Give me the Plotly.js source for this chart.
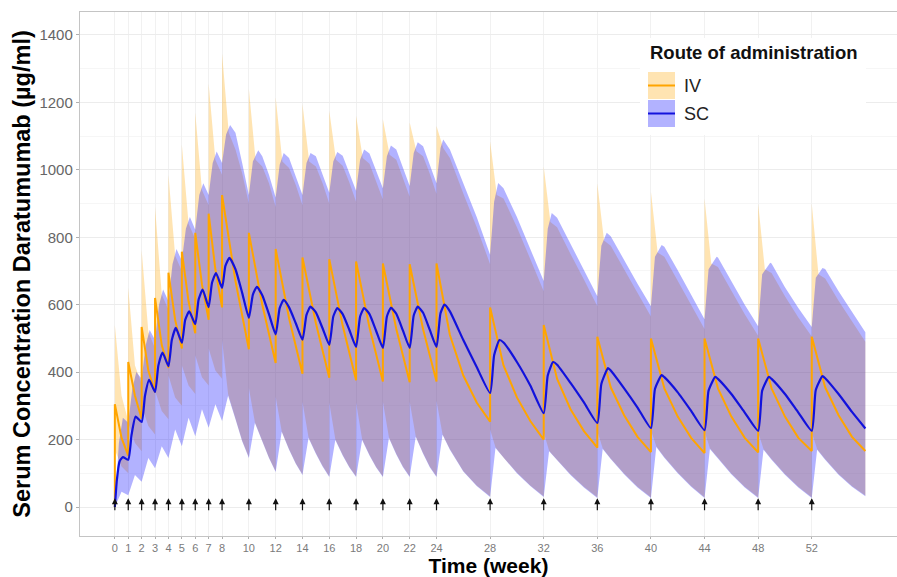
<!DOCTYPE html>
<html>
<head>
<meta charset="utf-8">
<script src="https://cdn.plot.ly/plotly-3.0.1.min.js"></script>
<style>html,body{margin:0;padding:0;background:#fff;}#chart{width:897px;height:577px;}</style>
</head>
<body>
<div id="chart"></div>
<script>
// ---- Data ----
const doseWeeks = [0,1,2,3,4,5,6,7,8,10,12,14,16,18,20,22,24,28,32,36,40,44,48,52];
const xTickVals = [0,1,2,3,4,5,6,7,8,10,12,14,16,18,20,22,24,28,32,36,40,44,48,52];
const yTickVals = [0,200,400,600,800,1000,1200,1400];
const routes = ['IV', 'SC'];

// IV median
const ivMedT = [0,0,0.5,1, 1,1,1.5,2, 2,2,2.5,3, 3,3,3.5,4, 4,4,4.5,5, 5,5,5.5,6, 6,6,6.5,7, 7,7,7.5,8, 8,8,9,10,
  10,10,11,12, 12,12,13,14, 14,14,15,16, 16,16,17,18, 18,18,19,20, 20,20,21,22, 22,22,23,24, 24,24,25,26,27,28,
  28,28,29,30,31,32, 32,32,33,34,35,36, 36,36,37,38,39,40, 40,40,41,42,43,44, 44,44,45,46,47,48, 48,48,49,50,51,52, 52,52,53,54,55,56];
const ivMedV = [0,305,205,152, 152,430,330,262, 262,534,405,340, 340,620,480,412, 412,695,555,470, 470,757,610,515, 515,813,660,555, 555,870,705,592, 592,925,670,468,
  468,813,600,427, 427,765,560,395, 395,740,545,383, 383,735,538,376, 376,728,532,372, 372,722,528,370, 370,720,527,372, 372,722,510,390,310,253,
  253,592,420,325,255,200, 200,540,380,290,225,176, 176,505,355,272,208,163, 163,500,352,268,205,160, 160,500,352,268,205,162, 162,500,352,268,205,166, 166,505,355,272,208,166];

// SC median
const scMedT = [0,0.15,0.35,0.6,1.0,1.25,1.55,2.0,2.25,2.56,3.0,3.25,3.56,4.0,4.25,4.55,5.0,5.25,5.55,6.0,6.25,6.55,7.0,7.25,7.55,8.0,8.25,8.55,9.0,9.5,
  10.0,10.3,10.6,11.0,11.5,12.0,12.3,12.6,13.0,13.5,14.0,14.3,14.6,15.0,15.5,16.0,16.3,16.6,17.0,17.5,18.0,18.3,18.6,19.0,19.5,20.0,20.3,20.6,21.0,21.5,22.0,22.3,22.6,23.0,23.5,24.0,24.3,24.6,25.0,26.0,27.0,
  28.0,28.3,28.7,29.0,30.0,31.0,32.0,32.3,32.7,33.0,34.0,35.0,36.0,36.3,36.8,37.0,38.0,39.0,40.0,40.3,40.8,41.0,42.0,43.0,44.0,44.3,44.8,45.0,46.0,47.0,48.0,48.3,48.8,49.0,50.0,51.0,52.0,52.3,52.8,53.0,54.0,55.0,56.0];
const scMedV = [0,80,135,148,140,215,268,252,330,377,341,420,458,418,495,531,487,555,580,542,615,645,593,665,694,650,715,739,705,635,
  561,630,653,628,572,512,590,614,592,545,496,570,594,577,530,481,565,590,572,525,475,565,590,572,522,472,565,591,573,523,472,568,594,576,525,475,575,600,580,495,415,
  338,450,495,488,430,360,278,390,430,422,368,310,249,365,412,405,352,295,234,350,391,385,340,285,228,345,386,380,335,280,226,345,386,380,335,280,226,347,388,382,335,282,233];

// IV 95th percentile
const ivHiT = [0,0,0.5,1, 1,1,1.5,2, 2,2,2.5,3, 3,3,3.5,4, 4,4,4.5,5, 5,5,5.5,6, 6,6,6.5,7, 7,7,7.5,8, 8,8,8.5,9,9.5,10,
  10,10,10.5,11,11.5,12, 12,12,12.5,13,13.5,14, 14,14,14.5,15,15.5,16, 16,16,16.5,17,17.5,18, 18,18,18.5,19,19.5,20, 20,20,20.5,21,21.5,22, 22,22,22.5,23,23.5,24,
  24,24,24.5,25,26,27,28, 28,28,28.5,29,30,31,32, 32,32,32.5,33,34,35,36, 36,36,36.5,37,38,39,40, 40,40,40.5,41,42,43,44, 44,44,44.5,45,46,47,48, 48,48,48.5,49,50,51,52, 52,52,52.5,53,54,55,56];
const ivHiV = [0,540,330,255, 255,650,420,365, 365,762,520,470, 470,890,630,585, 585,985,745,700, 700,1075,840,795, 795,1170,940,895, 895,1255,1030,985, 985,1345,1110,1060,990,900,
  900,1240,1030,1010,960,890, 890,1215,1025,1005,955,895, 895,1195,1025,1010,960,900, 900,1175,1030,1012,962,905, 905,1160,1035,1018,968,912, 912,1150,1045,1030,978,920, 920,1140,1055,1040,988,928,
  928,1130,1065,1035,930,830,720, 720,1085,925,915,830,735,640, 640,1010,845,830,750,675,595, 595,960,790,775,705,635,565, 565,935,755,742,672,600,528, 528,915,722,712,642,572,508, 508,900,705,694,625,562,506, 506,900,690,678,612,550,490];

// IV 5th percentile
const ivLoT = [0,0,0.5,1, 1,1,1.5,2, 2,2,2.5,3, 3,3,3.5,4, 4,4,4.5,5, 5,5,5.5,6, 6,6,6.5,7, 7,7,7.5,8, 8,8,8.45,9,9.5,10,
  10,10,10.45,11,11.5,12, 12,12,12.45,13,13.5,14, 14,14,14.45,15,15.5,16, 16,16,16.45,17,17.5,18, 18,18,18.45,19,19.5,20, 20,20,20.45,21,21.5,22, 22,22,22.45,23,23.5,24,
  24,24,24.45,25,26,27,28, 28,28,28.4,29,30,31,32, 32,32,32.4,33,34,35,36, 36,36,36.4,37,38,39,40, 40,40,40.4,41,42,43,44, 44,44,44.4,45,46,47,48, 48,48,48.4,49,50,51,52, 52,52,52.4,53,54,55,56];
const ivLoV = [0,170,120,100, 100,250,190,165, 165,300,240,215, 215,345,285,260, 260,390,325,300, 300,420,360,335, 335,450,385,360, 360,470,405,380, 380,495,335,262,197,148,
  148,353,251,197,147,106, 106,327,225,172,130,97, 97,312,207,160,122,91, 91,310,201,155,119,91, 91,310,201,155,119,91, 91,312,207,158,120,91, 91,312,210,160,120,91,
  91,315,216,172,107,64,32, 32,230,177,147,102,64,32, 32,222,167,140,97,60,29, 29,225,174,144,99,60,29, 29,228,180,148,102,62,29, 29,225,174,144,99,60,29, 29,222,172,142,98,60,29, 29,222,172,142,98,62,34];

// SC 95th percentile
const scHiT = [0,0.3,0.6,1.0,1.3,1.6,2.0,2.3,2.6,3.0,3.3,3.6,4.0,4.3,4.6,5.0,5.3,5.6,6.0,6.3,6.6,7.0,7.3,7.6,8.0,8.3,8.6,9.0,9.5,
  10.0,10.3,10.7,11.0,11.5,12.0,12.3,12.6,13.0,13.5,14.0,14.3,14.6,15.0,15.5,16.0,16.3,16.6,17.0,17.5,18.0,18.3,18.6,19,19.5,20,20.3,20.6,21,21.5,22,22.3,22.6,23,23.5,24,24.3,24.5,25,26,27,
  28,28.3,28.6,29,30,31,32,32.3,32.6,33,34,35,36,36.3,36.7,37,38,39,40,40.3,40.8,41,42,43,44,44.3,44.9,45,46,47,48,48.3,48.9,49,50,51,52,52.3,52.8,53,54,55,56];
const scHiV = [0,190,265,250,350,400,380,480,525,495,600,645,610,720,765,730,825,860,822,925,960,925,1020,1054,1020,1105,1133,1110,1020,
  925,1025,1058,1040,985,918,1015,1050,1035,980,925,1020,1050,1040,985,932,1025,1053,1042,990,938,1030,1060,1048,995,945,1040,1072,1060,1005,952,1050,1082,1070,1015,960,1065,1090,1060,960,860,
  748,905,961,945,860,765,670,825,872,858,780,705,625,775,813,803,732,662,595,742,777,772,702,630,557,705,742,740,670,600,536,690,724,722,652,590,534,680,709,706,640,578,518];

// SC 5th percentile
const scLoT = [0,0.5,1,1.5,2,2.5,3,3.5,4,4.5,5,5.5,6,6.5,7,7.5,8,8.45,9,9.5,
  10,10.45,11,11.5,12,12.45,13,13.5,14,14.45,15,15.5,16,16.45,17,17.5,18,18.45,19,19.5,20,20.45,21,21.5,22,22.45,23,23.5,24,24.45,25,26,27,
  28,28.4,29,30,31,32,32.4,33,34,35,36,36.4,37,38,39,40,40.4,41,42,43,44,44.4,45,46,47,48,48.4,49,50,51,52,52.4,53,54,55,56];
const scLoV = [0,45,35,95,75,145,115,180,145,230,180,265,210,290,235,305,255,330,260,195,
  145,249,195,145,104,223,170,128,95,205,158,120,89,199,153,117,89,199,153,117,89,205,156,118,89,208,158,118,89,214,170,105,62,
  30,175,145,100,62,30,165,138,95,58,27,172,142,97,58,27,178,146,100,60,27,172,142,97,58,27,170,140,96,58,27,170,140,96,60,32];

// ---- Build traces ----
function band(tHi, vHi, tLo, vLo) {
  return {x: tHi.concat(tLo.slice().reverse()), y: vHi.concat(vLo.slice().reverse())};
}
const ivBand = band(ivHiT, ivHiV, ivLoT, ivLoV);
const scBand = band(scHiT, scHiV, scLoT, scLoV);

const ORANGE = '#FFA500', BLUE = '#1212dc';
const IVFILL = 'rgba(255,165,0,0.30)', SCFILL = 'rgba(0,0,255,0.30)';

const traces = [
  {x: ivBand.x, y: ivBand.y, type: 'scatter', mode: 'lines', fill: 'toself', fillcolor: IVFILL,
   line: {width: 0, color: 'rgba(0,0,0,0)'}, showlegend: false, hoverinfo: 'skip'},
  {x: scBand.x, y: scBand.y, type: 'scatter', mode: 'lines', fill: 'toself', fillcolor: SCFILL,
   line: {width: 0, color: 'rgba(0,0,0,0)'}, showlegend: false, hoverinfo: 'skip'},
  {x: ivMedT, y: ivMedV, type: 'scatter', mode: 'lines', line: {color: ORANGE, width: 2}, showlegend: false},
  {x: scMedT, y: scMedV, type: 'scatter', mode: 'lines', line: {color: BLUE, width: 2.2, shape: 'spline', smoothing: 0.5}, showlegend: false}
];

// dosing arrows
const annotations = doseWeeks.map(w => ({
  x: w, y: 26, ax: w, ay: -14, xref: 'x', yref: 'y', axref: 'x', ayref: 'y',
  text: '', showarrow: true, arrowhead: 2, arrowsize: 1, arrowwidth: 1.2, arrowcolor: '#111'
}));

// manual legend (paper coords from pixel positions)
const PX = px => (px - 80) / 817, PY = py => (536 - py) / 524;
annotations.push({xref: 'paper', yref: 'paper', x: PX(648), y: PY(52), xanchor: 'left', yanchor: 'middle',
  text: '<b>Route of administration</b>', showarrow: false, font: {size: 18.5, color: '#111'}});
const keyFill = [IVFILL, SCFILL], keyLine = [ORANGE, BLUE], keyTop = [72, 100];
const shapes = [{type: 'rect', xref: 'paper', yref: 'paper', x0: PX(640), x1: PX(866), y0: PY(135), y1: PY(38),
  fillcolor: '#fff', line: {width: 0}, layer: 'above'}];
routes.forEach((r, i) => {
  const t = keyTop[i];
  shapes.push({type: 'rect', xref: 'paper', yref: 'paper', x0: PX(648), x1: PX(675), y0: PY(t + 27), y1: PY(t),
    fillcolor: keyFill[i], line: {width: 0}, layer: 'above'});
  shapes.push({type: 'line', xref: 'paper', yref: 'paper', x0: PX(648), x1: PX(675), y0: PY(t + 13.5), y1: PY(t + 13.5),
    line: {color: keyLine[i], width: 2}, layer: 'above'});
  annotations.push({xref: 'paper', yref: 'paper', x: PX(682), y: PY(t + 14), xanchor: 'left', yanchor: 'middle',
    text: r, showarrow: false, font: {size: 18, color: '#222'}});
});

const layout = {
  width: 897, height: 577,
  margin: {l: 80, r: 0, t: 12, b: 41},
  paper_bgcolor: '#fff', plot_bgcolor: '#fff',
  font: {family: '"Liberation Sans", Arial, sans-serif', color: '#222'},
  xaxis: {
    range: [-2.6, 58.36], tickvals: xTickVals, ticktext: xTickVals.map(String),
    showline: true, mirror: true, linecolor: '#c4c4c4', linewidth: 1.2,
    ticks: 'outside', ticklen: 2, tickcolor: '#b0b0b0',
    tickfont: {size: 11, color: '#7a7a7a'},
    showgrid: true, gridcolor: '#f1f1f1', zeroline: false,
    title: {text: '<b>Time (week)</b>', font: {size: 21, color: '#000'}, standoff: 8}
  },
  yaxis: {
    range: [-86, 1468], tickvals: yTickVals,
    showline: true, linecolor: '#c4c4c4', linewidth: 1.2,
    ticks: 'outside', ticklen: 3, tickcolor: '#b0b0b0',
    tickfont: {size: 15, color: '#666'},
    showgrid: true, gridcolor: '#ececec', zeroline: false,
    minor: {dtick: 100, tick0: 0, showgrid: true, gridcolor: '#f6f6f6'},
    title: {text: '<b>Serum Concentration Daratumumab (µg/ml)</b>', font: {size: 23.5, color: '#000'}, standoff: 2}
  },
  annotations: annotations,
  shapes: shapes,
  showlegend: false
};

Plotly.newPlot('chart', traces, layout, {displayModeBar: false, staticPlot: true});
</script>
</body>
</html>
